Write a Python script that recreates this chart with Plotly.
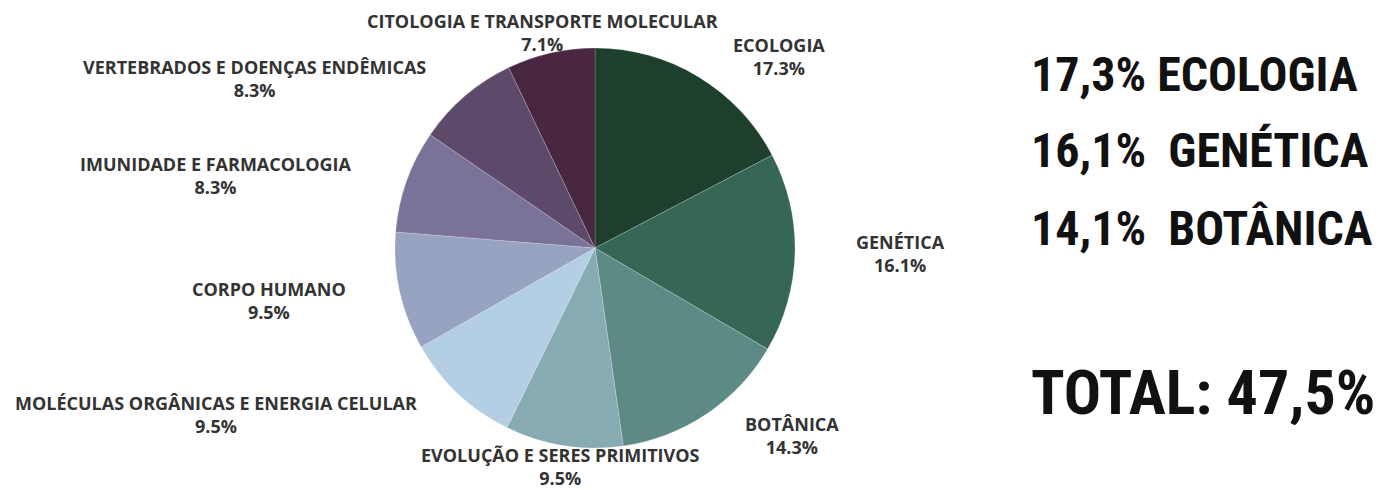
import plotly.graph_objects as go

categories = [
    "ECOLOGIA",
    "GENÉTICA",
    "BOTÂNICA",
    "EVOLUÇÃO E SERES PRIMITIVOS",
    "MOLÉCULAS ORGÂNICAS E ENERGIA CELULAR",
    "CORPO HUMANO",
    "IMUNIDADE E FARMACOLOGIA",
    "VERTEBRADOS E DOENÇAS ENDÊMICAS",
    "CITOLOGIA E TRANSPORTE MOLECULAR",
]
values = [17.3, 16.1, 14.3, 9.5, 9.5, 9.5, 8.3, 8.3, 7.1]
colors = ["#1f3f2d", "#356656", "#5e8a86", "#86abb3", "#b4cee3",
          "#97a3c1", "#7b7299", "#5d4a6b", "#4a2740"]

highlight_names = ["ECOLOGIA", "GENÉTICA", "BOTÂNICA"]
highlight_values = [17.3, 16.1, 14.1]
highlight_gaps = [" ", " \u00a0", " \u00a0"]
total_label = "TOTAL"

W, H = 1392, 490
OFF = 8  # page body margin shift

# label anchor positions in target pixels (center x, block center y)
label_pos = [(779, 57), (901, 253), (792, 435), (560, 466), (216, 414),
             (269, 300), (216, 175), (254, 79), (542, 32)]


def px(x):
    return (x - OFF) / W


def py(y):
    return 1 - (y - OFF) / H


cx, cy, r = 595, 248, 200

fig = go.Figure()
fig.add_trace(go.Pie(
    labels=categories, values=values, sort=False, direction="clockwise",
    rotation=0, textinfo="none", hoverinfo="label+percent",
    marker=dict(colors=colors, line=dict(color="rgba(255,255,255,0.4)", width=0.5)),
    domain=dict(x=[px(cx - r), px(cx + r)], y=[py(cy + r), py(cy - r)]),
    showlegend=False,
))

annotations = []
for name, v, (lx, ly) in zip(categories, values, label_pos):
    annotations.append(dict(
        x=px(lx), y=py(ly), xref="paper", yref="paper",
        xanchor="center", yanchor="middle", showarrow=False,
        text=f"<b>{name}</b><br><b>{v:.1f}%</b>", align="center",
        font=dict(family="Open Sans", size=18, color="#333333"),
    ))

fam = "Roboto Condensed, DejaVu Sans Condensed, DejaVu Sans"
row_font = dict(family=fam, size=48, color="#111111")
total_font = dict(family=fam, size=62, color="#111111")
row_y = [74, 151, 228]
for name, v, gap, y in zip(highlight_names, highlight_values, highlight_gaps, row_y):
    pct = f"{v:.1f}".replace(".", ",")
    annotations.append(dict(
        x=px(1029), y=py(y), xref="paper", yref="paper",
        xanchor="left", yanchor="middle", showarrow=False,
        text=f"<b>{pct}%{gap}{name}</b>", font=row_font,
    ))
total = sum(highlight_values)
annotations.append(dict(
    x=px(1029), y=py(392), xref="paper", yref="paper",
    xanchor="left", yanchor="middle", showarrow=False,
    text=f"<b>{total_label}: {total:.1f}%</b>".replace(".", ","), font=total_font,
))

fig.update_layout(
    width=W, height=H, margin=dict(l=0, r=0, t=0, b=0),
    paper_bgcolor="white", plot_bgcolor="white",
    annotations=annotations,
)
fig.write_html("out.html")
